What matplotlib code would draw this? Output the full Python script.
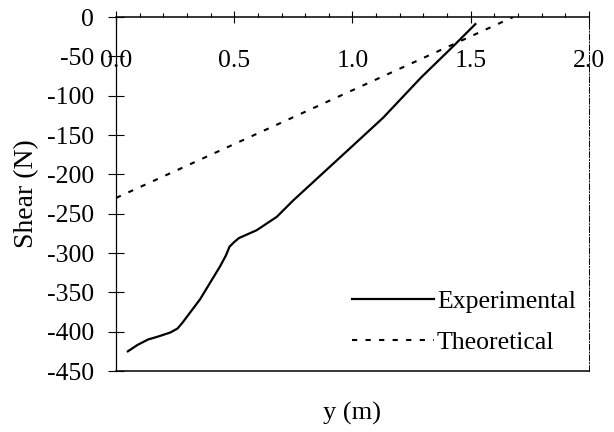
import numpy as np
import matplotlib.pyplot as plt
from matplotlib.ticker import MultipleLocator

plt.rcParams['font.family'] = ['Liberation Serif', 'DejaVu Serif']
plt.rcParams['axes.unicode_minus'] = False

# experimental shear curve
exp_y = [0.05, 0.09, 0.135, 0.18, 0.23, 0.26, 0.28, 0.355, 0.44, 0.465, 0.48,
         0.50, 0.52, 0.55, 0.595, 0.68, 0.75, 1.00, 1.13, 1.29, 1.42, 1.52]
exp_shear = [-425, -417, -410, -406, -401, -396, -389, -359, -317, -303, -292,
             -286, -281, -277, -271, -254, -233, -164, -128, -77, -39, -9]

# theoretical shear (straight line)
theo_y = [0.0, 1.68]
theo_shear = [-230, 0]

fig = plt.figure(figsize=(6.14, 4.32), dpi=100)
ax = fig.add_axes([0.189, 0.1412, 0.770, 0.8194])

ax.plot(exp_y, exp_shear, color='black', lw=1.6, label='Experimental')
ax.plot(theo_y, theo_shear, color='black', lw=1.5, ls=(0, (2.5, 4)), label='Theoretical')

ax.set_xlim(0, 2.0)
ax.set_ylim(-450, 0)
ax.xaxis.set_major_locator(MultipleLocator(0.5))
ax.xaxis.set_minor_locator(MultipleLocator(0.1))
ax.yaxis.set_major_locator(MultipleLocator(50))
ax.xaxis.set_major_formatter(plt.FuncFormatter(lambda v, p: '%.1f' % v))

ax.tick_params(axis='x', which='both', top=True, bottom=False, labeltop=True,
               labelbottom=False)
ax.tick_params(axis='x', which='major', direction='inout', length=9, pad=-44,
               labelsize=18.5)
ax.tick_params(axis='x', which='minor', direction='out', length=3, width=0.8)
ax.tick_params(axis='y', direction='inout', length=11.5, labelsize=18.5, pad=10)

ax.spines['right'].set_linestyle((0, (6, 2, 1, 2)))
ax.spines['right'].set_linewidth(0.7)
ax.spines['left'].set_linewidth(0.9)
ax.spines['top'].set_linewidth(1.1)
ax.spines['bottom'].set_linewidth(1.1)

ax.set_ylabel('Shear (N)', fontsize=20)
ax.yaxis.set_label_coords(-0.163, 0.5)
ax.set_xlabel('y (m)', fontsize=19, labelpad=22)

ax.legend(loc='upper left', frameon=False, fontsize=18.5, handlelength=3.2,
          handletextpad=0.1, labelspacing=0.72, borderpad=0, borderaxespad=0,
          bbox_to_anchor=(352 / 614, 1 - 290 / 432), bbox_transform=fig.transFigure)

fig.savefig('out.png', dpi=100)
